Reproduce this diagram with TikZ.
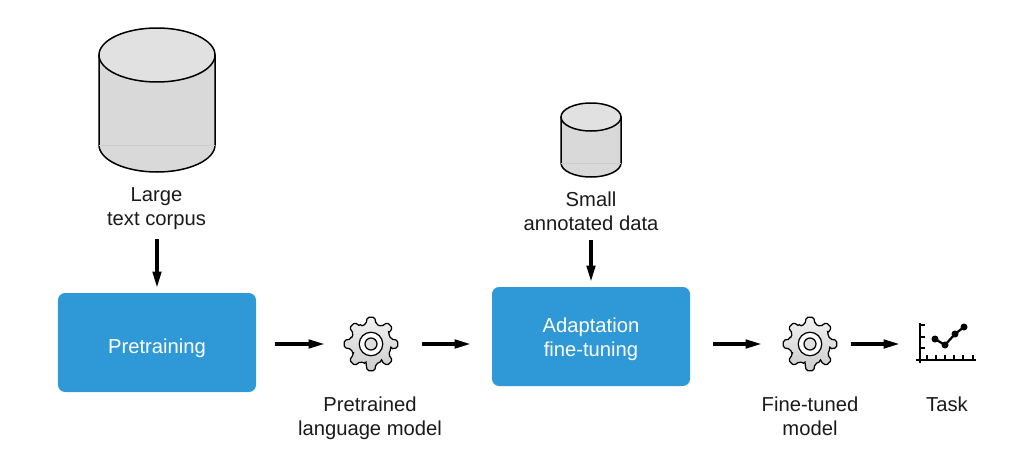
\documentclass[tikz,border=0pt]{standalone}
\usepackage{fontspec}
\setmainfont{Liberation Sans}
\usetikzlibrary{arrows.meta}
\definecolor{boxblue}{HTML}{2E99D6}
\definecolor{cylside}{HTML}{D9D9D9}
\definecolor{cyltop}{HTML}{E1E1E1}
\definecolor{inktext}{HTML}{1A1A1A}
\tikzset{
	bluebox/.style={fill=boxblue, rounded corners=4pt, minimum width=3.96cm, minimum height=1.98cm, align=center, text=white},
	caption/.style={align=center, text=inktext},
	holder/.style={minimum size=1.08cm, inner sep=0pt},
	flow/.style={line width=0.62mm, -{Triangle[length=3.2mm, width=1.7mm]}},
	cylline/.style={line width=0.3mm, fill=#1, draw=black}
}
\def\lowered#1#2{\raisebox{-#1}[\height][\depth]{#2}}
\def\cylinder(#1)(#2:#3:#4){
	\draw[cylline=cylside] (#1) ++(-#3, 0) -- ++(0, -#2) arc (180:360:#3 and #4) -- ++(0, #2) -- cycle;
	\draw[line width=0.1mm, color=black!20] (#1) ++(-#3, -#2) -- ++(2*#3, 0);
	\draw[cylline=cyltop] (#1) ellipse (#3 and #4);
}
\def\gear(#1){
	\draw[line width=0.25mm, rounded corners=1pt, top color=black!5, bottom color=black!20, shift={(#1)}]
		(-14:0.41) \foreach \a in {0, 45, ..., 315} {
			-- (\a-14:0.41) -- (\a-8:0.54) -- (\a+8:0.54) -- (\a+14:0.41) -- (\a+31:0.41)
		} -- cycle;
	\draw[line width=0.25mm, fill=white] (#1) circle (0.235);
	\draw[line width=0.25mm, fill=black!12] (#1) circle (0.12);
}
\begin{document}
\begin{tikzpicture}[font=\fontsize{11.5}{13.6}\selectfont]
	%%%%% START %%%%%
	\useasboundingbox (0, 0) rectangle (20.48, 9.4);

	\cylinder(3.14, 8.3)(1.8:1.16:0.54)
	\cylinder(11.82, 7.06)(0.92:0.6:0.28)

	\node[caption] (corpuslabel) at (3.13, 5.22) {Large\\text corpus};
	\node[caption] (smalllabel) at (11.82, 5.18) {Small\\annotated data};

	\node[bluebox] (pretrain) at (3.14, 2.55) {\lowered{3.4pt}{Pretraining}};
	\node[bluebox] (adapt) at (11.82, 2.67) {\lowered{1.7pt}{Adaptation}\\\lowered{1.7pt}{fine-tuning}};

	\node[holder] (pretrainedgear) at (7.42, 2.52) {};
	\node[holder] (finegear) at (16.2, 2.52) {};
	\node[holder] (taskchart) at (18.92, 2.52) {};
	\gear(pretrainedgear)
	\gear(finegear)

	% chart icon
	\draw[line width=0.4mm] (18.4, 2.94) -- (18.4, 2.14);
	\draw[line width=0.4mm] (18.32, 2.2) -- (19.52, 2.2);
	\foreach \y in {2.9, 2.66, 2.44} {
		\draw[line width=0.35mm] (18.4, \y) -- (18.5, \y);
	}
	\foreach \x in {18.54, 18.72, 18.9, 19.08, 19.26, 19.46} {
		\draw[line width=0.35mm] (\x, 2.2) -- (\x, 2.3);
	}
	\draw[line width=0.45mm] (18.7, 2.62) -- (18.9, 2.5) -- (19.1, 2.72) -- (19.28, 2.86);
	\foreach \x/\y in {18.7/2.62, 18.9/2.5, 19.1/2.72, 19.28/2.86} {
		\fill (\x, \y) circle (0.07);
	}

	\node[caption] (pretrainedlabel) at (7.4, 1.04) {Pretrained\\language model};
	\node[caption] (finelabel) at (16.2, 1.08) {Fine-tuned\\model};
	\node[caption] (tasklabel) at (18.94, 1.31) {Task};

	\draw[flow, shorten <=0.06cm, shorten >=0.1cm] (corpuslabel.south -| pretrain) -- (pretrain.north);
	\draw[flow, shorten <=0.06cm, shorten >=0.1cm] (smalllabel) ++(0, -0.52) -- (adapt.north);
	\draw[flow, shorten <=0.38cm, shorten >=0.38cm] (pretrain.east |- pretrainedgear) -- (pretrainedgear);
	\draw[flow, shorten <=0.48cm, shorten >=0.42cm] (pretrainedgear) -- (pretrainedgear -| adapt.west);
	\draw[flow, shorten <=0.46cm, shorten >=0.42cm] (adapt.east |- finegear) -- (finegear);
	\draw[flow, shorten <=0.28cm, shorten >=0.38cm] (finegear) -- (taskchart);
	%%%%% END %%%%%
\end{tikzpicture}
\end{document}
